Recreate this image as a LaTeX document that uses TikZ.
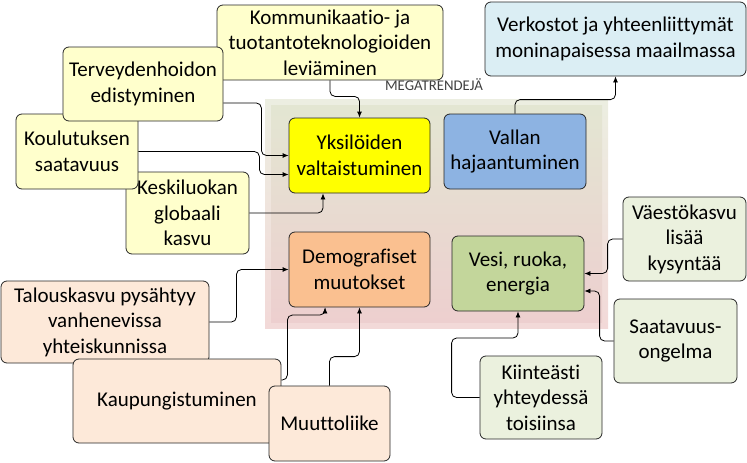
\documentclass[tikz,border=0pt]{standalone}
\usepackage{fontspec}
\setmainfont{Carlito}[Ligatures=NoCommon]
\usepackage{xcolor}
\definecolor{paleyellow}{HTML}{FFFFCC}
\definecolor{brightyellow}{HTML}{FFFF00}
\definecolor{powerblue}{HTML}{8DB3E2}
\definecolor{demoorange}{HTML}{FAC090}
\definecolor{resgreen}{HTML}{C3D69B}
\definecolor{paleorange}{HTML}{FDE9D9}
\definecolor{palegreen}{HTML}{EBF1DE}
\definecolor{paleblue}{HTML}{DBEEF4}
\definecolor{bgtop}{HTML}{E3E6D2}
\definecolor{bgbottom}{HTML}{EDCFCF}
\definecolor{bgtoplight}{HTML}{ECEEE1}
\definecolor{bgbottomlight}{HTML}{F2D9D8}
\usepackage{tikz}
\usetikzlibrary{arrows.meta}

\tikzset{
  box/.style={draw=black!85, line width=0.8pt, rounded corners=6pt,
              align=center, inner sep=2pt,
              font=\fontsize{21}{25.5}\selectfont},
  link/.style={draw=black, line width=0.8pt, rounded corners=5pt,
               -{Latex[length=6pt,width=5pt]}},
}

\begin{document}
\begin{tikzpicture}[x=1pt, y=-1pt]
  \useasboundingbox (0,0) rectangle (747,463);

  % megatrend area
  \shade[top color=bgtoplight, bottom color=bgbottomlight] (265,99) rectangle (608,328);
  \shade[top color=bgtop, bottom color=bgbottom] (271,105) rectangle (602,322);
  \node[font=\fontsize{14.8}{17}\selectfont, text=black!75] (mega) at (434,85) {MEGATRENDEJÄ};

  % drivers, upper left
  \node[box, fill=paleyellow, minimum width=226pt, minimum height=75pt] (komm) at (330,42.5)
    {Kommunikaatio- ja\\tuotantoteknologioiden\\leviäminen};
  \node[box, fill=paleyellow, minimum width=123pt, minimum height=82pt] (kesk) at (187.5,213)
    {Keskiluokan\\globaali\\kasvu};
  \node[box, fill=paleyellow, minimum width=122pt, minimum height=75pt] (koul) at (77,151.5)
    {Koulutuksen\\saatavuus};
  \node[box, fill=paleyellow, minimum width=160pt, minimum height=74pt] (terv) at (143,84)
    {Terveydenhoidon\\edistyminen};

  % megatrends
  \node[box, fill=brightyellow, minimum width=141pt, minimum height=75pt] (yksi) at (359.5,155.5)
    {Yksilöiden\\valtaistuminen};
  \node[box, fill=powerblue, minimum width=142pt, minimum height=75pt] (vallan) at (515,151.5)
    {Vallan\\hajaantuminen};
  \node[box, fill=demoorange, minimum width=141pt, minimum height=75pt] (demo) at (359.5,269.5)
    {Demografiset\\muutokset};
  \node[box, fill=resgreen, minimum width=132pt, minimum height=75pt] (vesi) at (518,273.5)
    {Vesi, ruoka,\\energia};

  % consequences and drivers, right and bottom
  \node[box, fill=paleblue, minimum width=261pt, minimum height=74pt] (verk) at (615.5,39)
    {Verkostot ja yhteenliittymät\\moninapaisessa maailmassa};
  \node[box, fill=paleorange, minimum width=208pt, minimum height=82pt] (talous) at (105,322)
    {Talouskasvu pysähtyy\\vanhenevissa\\yhteiskunnissa};
  \node[box, fill=paleorange, minimum width=208pt, minimum height=84pt] (kaup) at (177,401)
    {Kaupungistuminen};
  \node[box, fill=paleorange, minimum width=121pt, minimum height=75pt] (muutto) at (329.5,423.5)
    {Muuttoliike};
  \node[box, fill=palegreen, minimum width=122pt, minimum height=83pt] (kiint) at (541,397.5)
    {Kiinteästi\\yhteydessä\\toisiinsa};
  \node[box, fill=palegreen, minimum width=123pt, minimum height=84pt] (saat) at (675.5,341)
    {Saatavuus-\\ongelma};
  \node[box, fill=palegreen, minimum width=123pt, minimum height=84pt] (vaesto) at (684.5,239)
    {Väestökasvu\\lisää\\kysyntää};

  % connectors
  \draw[link] (komm.south) -- ++(0,16) -| (yksi.north);
  \draw[link] ([yshift=-19pt]terv.east) -- ++(38,0) |- (yksi.west);
  \draw[link] (koul.east) -- ++(121,0) |- ([yshift=-19pt]yksi.west);
  \draw[link] (kesk.east) -| ([xshift=-36.5pt]yksi.south);
  \draw[link] (vallan.north) -- ++(0,-14) -| (verk.south);
  \draw[link] (talous.east) -- ++(27,0) |- (demo.west);
  \draw[link] ([yshift=21pt]kaup.east) -- ++(6,0) -- ++(0,-65) -| ([xshift=-34.5pt]demo.south);
  \draw[link] (muutto.north) -- ++(0,-29) -| (demo.south);
  \draw[link] (kiint.west) -- ++(-28,0) -- ++(0,-59.5) -| (vesi.south);
  \draw[link] (vaesto.west) -- ++(-15,0) |- (vesi.east);
  \draw[link] (saat.west) -- ++(-14,0) |- ([yshift=-17.5pt]vesi.east);

\end{tikzpicture}
\end{document}
